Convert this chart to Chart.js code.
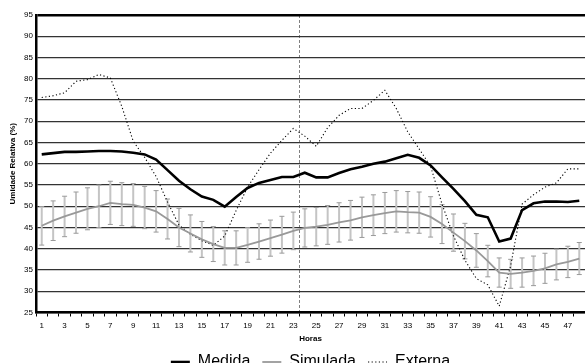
<!DOCTYPE html>
<html>
<head>
<meta charset="utf-8">
<script src="https://cdn.jsdelivr.net/npm/chart.js@4/dist/chart.umd.min.js"></script>
<style>
  html, body { margin: 0; padding: 0; background: #fff; overflow: hidden; }
  canvas { display: block; }
</style>
</head>
<body>
<canvas id="grafico" width="585" height="380"></canvas>
<script>
// dados
const horas = ["1","2","3","4","5","6","7","8","9","10","11","12","13","14","15","16",
  "17","18","19","20","21","22","23","24","25","26","27","28","29","30","31","32",
  "33","34","35","36","37","38","39","40","41","42","43","44","45","46","47","48"];

const medida = [62.2, 62.5, 62.8, 62.8, 62.9, 63.0, 63.0, 62.9, 62.6, 62.2, 61.0, 58.5,
  56.0, 54.0, 52.3, 51.5, 49.9, 52.2, 54.3, 55.5, 56.2, 56.9, 56.9, 57.9,
  56.8, 56.8, 57.8, 58.7, 59.3, 60.0, 60.5, 61.3, 62.1, 61.4, 59.6, 56.8,
  54.1, 51.2, 48.0, 47.4, 41.7, 42.4, 49.1, 50.7, 51.1, 51.1, 51.0, 51.3];

const simulada = [45.4, 46.6, 47.6, 48.5, 49.4, 50.0, 50.8, 50.5, 50.3, 49.7, 48.8, 47.0,
  45.0, 43.6, 42.2, 41.1, 40.2, 40.2, 40.9, 41.7, 42.5, 43.3, 44.2, 44.9,
  45.2, 45.6, 46.2, 46.7, 47.4, 47.9, 48.4, 48.8, 48.6, 48.5, 47.5, 45.8,
  43.8, 41.8, 39.6, 37.1, 34.4, 34.1, 34.4, 34.8, 35.4, 36.3, 36.9, 37.7];

const externa = [75.6, 76.0, 76.7, 79.4, 79.8, 81.0, 80.2, 73.5, 65.3, 61.5, 57.0, 51.0,
  45.6, 43.4, 41.9, 40.8, 43.0, 49.0, 54.5, 58.6, 62.5, 65.5, 68.3, 66.5,
  64.1, 68.5, 71.4, 73.0, 73.0, 74.9, 77.3, 73.0, 67.5, 63.5, 59.4, 50.5,
  43.0, 37.3, 33.0, 31.5, 26.5, 36.0, 50.5, 52.7, 54.5, 55.5, 58.8, 58.8];

// barras de erro da simulada: percentual (como no Excel)
const ERRO_PCT = 10;
// linha tracejada vertical entre as horas 23 e 24
const DIVISAO = 23;

const fonte = "'Liberation Sans', Arial, sans-serif";
Chart.defaults.color = "#000";
Chart.defaults.font.family = fonte;

const barrasErro = {
  id: "barrasErro",
  beforeDatasetsDraw(chart) {
    const meta = chart.getDatasetMeta(1);
    const y = chart.scales.y;
    const ctx = chart.ctx;
    ctx.save();
    meta.data.forEach((pt, i) => {
      const v = simulada[i];
      const topo = y.getPixelForValue(v * (1 + ERRO_PCT / 100));
      const base = y.getPixelForValue(v * (1 - ERRO_PCT / 100));
      ctx.strokeStyle = "#c4c4c4";
      ctx.lineWidth = 2;
      ctx.beginPath();
      ctx.moveTo(pt.x, topo);
      ctx.lineTo(pt.x, base);
      ctx.stroke();
      ctx.strokeStyle = "#9a9a9a";
      ctx.lineWidth = 1;
      ctx.beginPath();
      ctx.moveTo(pt.x - 2.5, topo);
      ctx.lineTo(pt.x + 2.5, topo);
      ctx.moveTo(pt.x - 2.5, base);
      ctx.lineTo(pt.x + 2.5, base);
      ctx.stroke();
    });
    ctx.restore();
  }
};

// legenda centrada na área do gráfico, não no canvas inteiro
const legendaNaArea = {
  id: "legendaNaArea",
  afterLayout(chart) {
    chart.legend.left = chart.chartArea.left;
  }
};

new Chart(document.getElementById("grafico"), {
  type: "line",
  data: {
    labels: horas,
    datasets: [
      {
        label: "Medida",
        data: medida,
        borderColor: "#000",
        backgroundColor: "#000",
        borderWidth: 2.6,
        pointRadius: 0,
        tension: 0,
      },
      {
        label: "Simulada",
        data: simulada,
        borderColor: "#999",
        backgroundColor: "#999",
        borderWidth: 1.8,
        pointRadius: 0,
        tension: 0,
      },
      {
        label: "Externa",
        data: externa,
        borderColor: "#000",
        backgroundColor: "#000",
        borderWidth: 1.1,
        borderDash: [1.2, 2.4],
        pointRadius: 0,
        tension: 0,
      },
    ],
  },
  options: {
    responsive: false,
    animation: false,
    events: [],
    layout: { padding: { top: 15, right: 0, left: 0, bottom: 0 } },
    scales: {
      x: {
        offset: true,
        grid: {
          offset: true,
          drawOnChartArea: true,
          color: (c) => (c.index === DIVISAO ? "#808080" : "rgba(0,0,0,0)"),
          lineWidth: 1,
          tickColor: "#000",
          tickLength: 4,
        },
        border: { display: true, color: "#000", width: 2.5, dash: [3, 2] },
        ticks: {
          autoSkip: false,
          maxRotation: 0,
          padding: 4,
          font: { size: 8 },
          callback: function (val, i) {
            return i % 2 === 0 ? this.getLabelForValue(val) : "";
          },
        },
        title: {
          display: true,
          text: "Horas",
          font: { size: 8, weight: "bold" },
          padding: { top: 0, bottom: -1.5 },
        },
        afterFit: (s) => { s.height = 29.5; },
      },
      y: {
        min: 25,
        max: 95,
        ticks: { stepSize: 5, padding: 3, font: { size: 8 } },
        grid: {
          drawTicks: false,
          color: (c) => (c.tick && c.tick.value === 95 ? "#000" : "#333"),
          lineWidth: (c) => (c.tick && c.tick.value === 95 ? 2.5 : 1.3),
        },
        border: { display: true, color: "#000", width: 2.5 },
        title: {
          display: true,
          text: "Umidade Relativa (%)",
          font: { size: 8, weight: "bold" },
          padding: { top: 8, bottom: 0 },
        },
        afterFit: (s) => { s.width = 36; },
      },
    },
    plugins: {
      legend: {
        position: "bottom",
        labels: {
          usePointStyle: true,
          pointStyleWidth: 19,
          padding: 12,
          font: { size: 16 },
          color: "#000",
          generateLabels: (chart) =>
            chart.data.datasets.map((ds, i) => ({
              text: ds.label,
              datasetIndex: i,
              pointStyle: "line",
              strokeStyle: ds.borderColor,
              fillStyle: ds.borderColor,
              lineWidth: ds.borderWidth,
              lineDash: ds.borderDash || [],
              fontColor: "#000",
              hidden: false,
            })),
        },
      },
      tooltip: { enabled: false },
    },
  },
  plugins: [barrasErro, legendaNaArea],
});
</script>
</body>
</html>
